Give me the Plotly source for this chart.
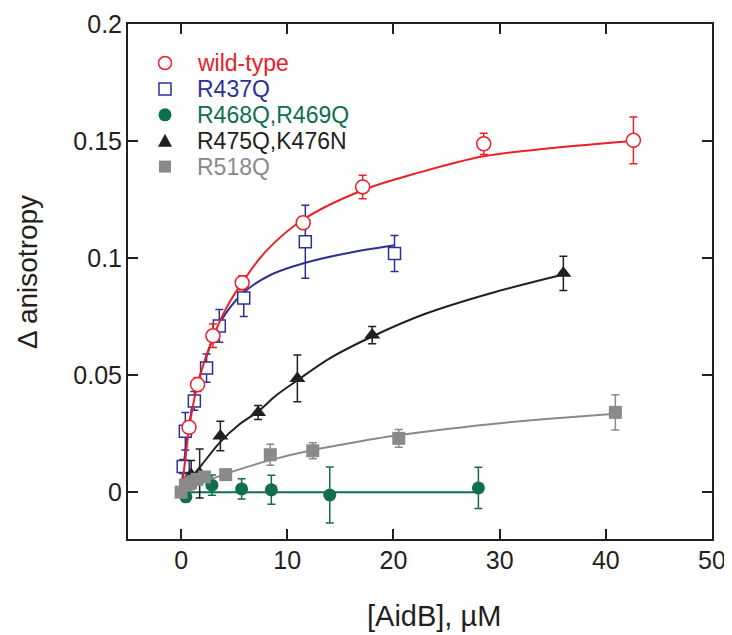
import plotly.graph_objects as go

# values
wt_x = [0.75, 1.55, 3.0, 5.75, 11.5, 17.1, 28.5, 42.6]
wt_y = [0.0277, 0.0460, 0.0668, 0.0895, 0.1151, 0.1304, 0.1488, 0.1503]
wt_err = [0.002, 0.003, 0.005, 0.003, 0.0025, 0.005, 0.0045, 0.010]

r437_x = [0.2, 0.4, 1.25, 2.4, 3.6, 5.9, 11.7, 20.1]
r437_y = [0.011, 0.026, 0.039, 0.053, 0.071, 0.083, 0.107, 0.102]
r437_err = [0.003, 0.008, 0.004, 0.006, 0.007, 0.008, 0.0156, 0.0077]

r468_x = [0.45, 2.9, 5.7, 8.5, 14.0, 28.0]
r468_y = [-0.002, 0.003, 0.0014, 0.001, -0.0012, 0.0018]
r468_err = [0.002, 0.0043, 0.0043, 0.0062, 0.012, 0.0088]

r475_x = [0.95, 1.75, 3.7, 7.25, 10.95, 18.0, 36.0]
r475_y = [0.0075, 0.008, 0.024, 0.034, 0.0486, 0.0671, 0.0935]
r475_err = [0.006, 0.0105, 0.0063, 0.003, 0.0100, 0.0037, 0.0073]

r518_x = [0.0, 0.4, 0.9, 1.5, 2.2, 4.2, 8.4, 12.4, 20.5, 40.9]
r518_y = [0.0, 0.003, 0.004, 0.0055, 0.0065, 0.0075, 0.016, 0.0177, 0.023, 0.0341]
r518_err = [0.002, 0.002, 0.003, 0.002, 0.002, 0.001, 0.0045, 0.0034, 0.0038, 0.0075]

# fitted curves
wt_fit_x = [0, 0.4, 0.75, 1.5, 3.0, 4.3, 5.75, 8.0, 11.5, 17.1, 22.0, 28.5, 35.0, 42.6]
wt_fit_y = [0, 0.014, 0.027, 0.045, 0.066, 0.079, 0.0895, 0.103, 0.1165, 0.129, 0.136, 0.1435, 0.147, 0.150]

r437_fit_x = [0, 0.5, 1.3, 2.4, 3.6, 5.9, 8.5, 11.7, 15.5, 20.1]
r437_fit_y = [0, 0.021, 0.042, 0.058, 0.072, 0.0853, 0.093, 0.098, 0.102, 0.1055]

r468_fit_x = [0.5, 28.0]
r468_fit_y = [0.0, 0.0]

r475_fit_x = [0, 1.0, 2.0, 3.7, 5.5, 7.25, 9.0, 10.95, 14.0, 18.0, 23.0, 29.0, 36.0]
r475_fit_y = [0, 0.0065, 0.012, 0.0215, 0.029, 0.0345, 0.0415, 0.0478, 0.0572, 0.0665, 0.0762, 0.0848, 0.093]

r518_fit_x = [0, 1.0, 2.2, 4.2, 6.0, 8.4, 12.4, 16.0, 20.5, 25.0, 30.0, 35.0, 40.9]
r518_fit_y = [0, 0.0021, 0.0045, 0.0078, 0.0105, 0.0137, 0.018, 0.021, 0.0244, 0.027, 0.0295, 0.0315, 0.0335]

labels = ['wild-type', 'R437Q', 'R468Q,R469Q', 'R475Q,K476N', 'R518Q']
colors = ['#ec2027', '#2e3192', '#0f6e4e', '#231f20', '#8a8a8c']

FONT = 'Arial, Liberation Sans, sans-serif'
AX = '#231f20'

fig = go.Figure()


def add_series(x, y, err, fx, fy, color, symbol, size, open_=False):
    fig.add_trace(go.Scatter(
        x=fx, y=fy, mode='lines', line=dict(color=color, width=2, shape='spline'),
        showlegend=False, hoverinfo='skip'))
    fig.add_trace(go.Scatter(
        x=x, y=y, mode='markers',
        error_y=dict(type='data', array=err, color=color, thickness=1.5, width=4),
        marker=dict(symbol=symbol, size=size, color='white' if open_ else color,
                    line=dict(color=color, width=1.5 if open_ else 0)),
        showlegend=False))


# drawing order: blue under red, gray on top
add_series(r437_x, r437_y, r437_err, r437_fit_x, r437_fit_y, colors[1], 'square', 12, True)
add_series(r468_x, r468_y, r468_err, r468_fit_x, r468_fit_y, colors[2], 'circle', 13)
add_series(r475_x, r475_y, r475_err, r475_fit_x, r475_fit_y, colors[3], 'triangle-up', 14)
add_series(wt_x, wt_y, wt_err, wt_fit_x, wt_fit_y, colors[0], 'circle', 14, True)
add_series(r518_x, r518_y, r518_err, r518_fit_x, r518_fit_y, colors[4], 'square', 13)

# page pixels -> figure pixels (the html body has an 8px margin)
OFF = 8
FW, FH = 732 - OFF, 635 - OFF
L, T, W, H = 128 - OFF, 24 - OFF, 584, 515


def px(xp):
    return (xp - OFF - L) / W


def py(yp):
    return (T + H - (yp - OFF)) / H


# legend drawn by hand (tight row spacing as in the figure)
row0, gap = 63, 25.9
key_x, text_x = 165, 195
shapes = []
annots = []
for i, (lab, col) in enumerate(zip(labels, colors)):
    yy = row0 + i * gap
    base = dict(xref='paper', yref='paper', xsizemode='pixel', ysizemode='pixel',
                xanchor=px(key_x), yanchor=py(yy))
    if i == 0:
        shapes.append(dict(type='circle', x0=-6.5, x1=6.5, y0=-6.5, y1=6.5,
                           line=dict(color=col, width=1.5), fillcolor='white', **base))
    elif i == 1:
        shapes.append(dict(type='rect', x0=-6, x1=6, y0=-6, y1=6,
                           line=dict(color=col, width=1.5), fillcolor='white', **base))
    elif i == 2:
        shapes.append(dict(type='circle', x0=-6.5, x1=6.5, y0=-6.5, y1=6.5,
                           line=dict(color=col, width=0), fillcolor=col, **base))
    elif i == 3:
        shapes.append(dict(type='path', path='M -7,-6 L 7,-6 L 0,7 Z',
                           line=dict(color=col, width=0), fillcolor=col, **base))
    else:
        shapes.append(dict(type='rect', x0=-6, x1=6, y0=-6, y1=6,
                           line=dict(color=col, width=0), fillcolor=col, **base))
    annots.append(dict(xref='paper', yref='paper', x=px(text_x), y=py(yy),
                       xanchor='left', yanchor='middle', showarrow=False, text=lab,
                       font=dict(family=FONT, size=23, color=col)))

# axis titles as annotations so they sit exactly where the figure has them
annots.append(dict(xref='paper', yref='paper', x=px(434), y=py(616),
                   xanchor='center', yanchor='middle', showarrow=False,
                   text='[AidB], µM', font=dict(family=FONT, size=29, color=AX)))
annots.append(dict(xref='paper', yref='paper', x=px(27), y=py(272),
                   xanchor='center', yanchor='middle', showarrow=False, textangle=-90,
                   text='Δ anisotropy', font=dict(family=FONT, size=28, color=AX)))

axis_common = dict(
    showline=True, linecolor=AX, linewidth=2, mirror='ticks',
    ticks='inside', ticklen=10, tickwidth=2, tickcolor=AX,
    showgrid=False, zeroline=False, automargin=False,
    tickfont=dict(family=FONT, size=25, color=AX),
)

fig.update_layout(
    width=FW, height=FH,
    margin=dict(l=L, r=FW - L - W, t=T, b=FH - T - H),
    paper_bgcolor='white', plot_bgcolor='white',
    showlegend=False,
    shapes=shapes, annotations=annots,
    xaxis=dict(range=[-5, 50], tickvals=[0, 10, 20, 30, 40, 50],
               ticklabelstandoff=-2, **axis_common),
    yaxis=dict(range=[-0.02, 0.2], tickvals=[0, 0.05, 0.1, 0.15, 0.2],
               ticktext=['0', '0.05', '0.1', '0.15', '0.2'],
               ticklabelstandoff=-1, **axis_common),
)

fig.write_html("out.html")
